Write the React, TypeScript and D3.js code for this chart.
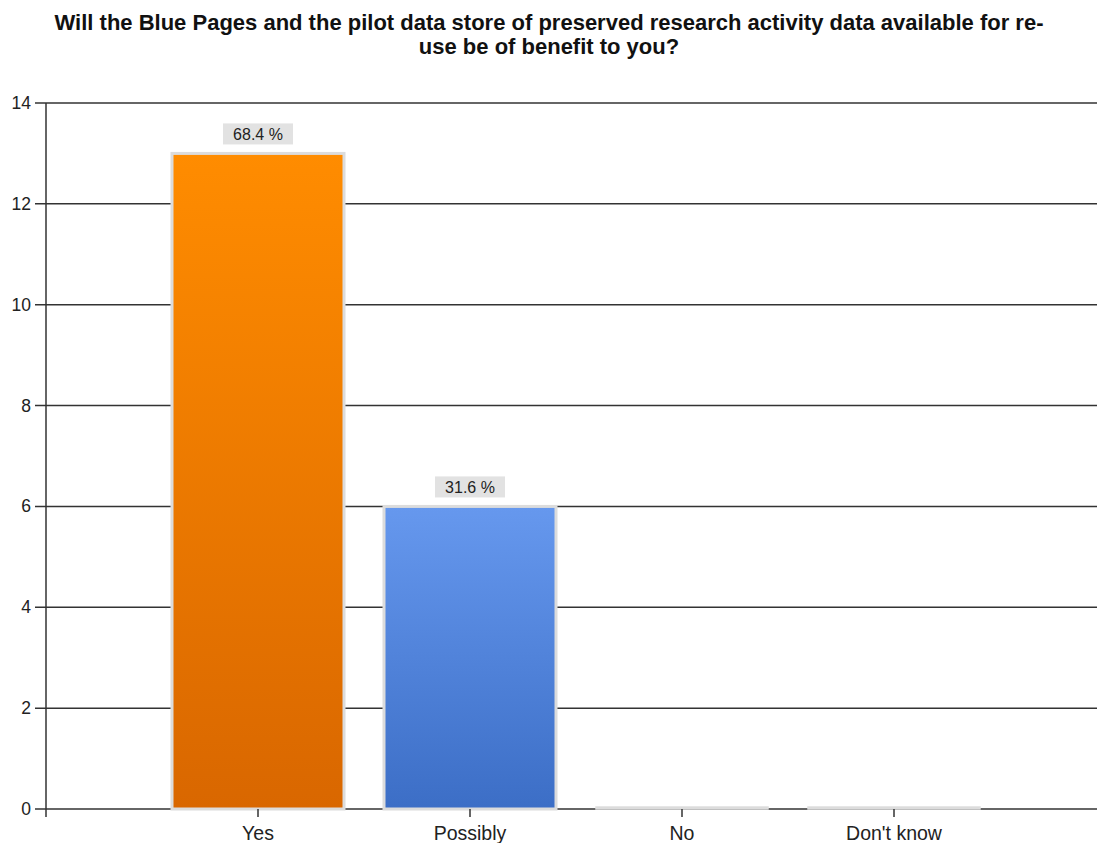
import React, { useEffect, useRef } from 'react';
import * as d3 from 'd3';

const categories = ['Yes', 'Possibly', 'No', "Don't know"];
const counts = [13, 6, 0, 0];
const percentLabels = ['68.4 %', '31.6 %', '', ''];
const yTicks = [0, 2, 4, 6, 8, 10, 12, 14];
const titleLines = [
  'Will the Blue Pages and the pilot data store of preserved research activity data available for re-',
  'use be of benefit to you?',
];

const App: React.FC = () => {
  const chartRef = useRef<SVGSVGElement | null>(null);

  useEffect(() => {
    drawChart();
  }, []);

  const drawChart = () => {
    const width = 1097;
    const height = 843;
    const plot = { left: 46, right: 1097, top: 103, bottom: 809 };

    const svg = d3.select(chartRef.current);
    svg.selectAll('*').remove();

    const defs = svg.append('defs');
    const gradients = [
      { id: 'gradOrange', top: '#ff8c00', bottom: '#d96700' },
      { id: 'gradBlue', top: '#6698ee', bottom: '#3c6ec6' },
    ];
    gradients.forEach((g) => {
      const lg = defs.append('linearGradient').attr('id', g.id).attr('x1', 0).attr('y1', 0).attr('x2', 0).attr('y2', 1);
      lg.append('stop').attr('offset', '0%').attr('stop-color', g.top);
      lg.append('stop').attr('offset', '100%').attr('stop-color', g.bottom);
    });

    const font = 'Arial, "Liberation Sans", sans-serif';

    // title
    svg
      .append('g')
      .selectAll('text')
      .data(titleLines)
      .enter()
      .append('text')
      .attr('x', 549)
      .attr('y', (d, i) => 30 + i * 24)
      .attr('text-anchor', 'middle')
      .style('font-family', font)
      .style('font-size', '22px')
      .style('font-weight', 'bold')
      .style('fill', '#111')
      .text((d) => d);

    const x = d3.scaleBand().domain(categories).range([152, 1000]).paddingInner(0).paddingOuter(0);
    const y = d3.scaleLinear().domain([0, 14]).range([plot.bottom, plot.top]);
    const barPad = 20;

    // grid lines
    svg
      .append('g')
      .selectAll('line')
      .data(yTicks)
      .enter()
      .append('line')
      .attr('x1', plot.left - 11)
      .attr('x2', plot.right)
      .attr('y1', (d) => y(d))
      .attr('y2', (d) => y(d))
      .attr('stroke', '#333')
      .attr('stroke-width', 1.5);

    // tick labels
    svg
      .append('g')
      .selectAll('text')
      .data(yTicks)
      .enter()
      .append('text')
      .attr('x', plot.left - 15)
      .attr('y', (d) => y(d) + 6)
      .attr('text-anchor', 'end')
      .style('font-family', font)
      .style('font-size', '17.5px')
      .style('fill', '#222')
      .text((d) => d);

    // y axis line
    svg
      .append('line')
      .attr('x1', plot.left)
      .attr('x2', plot.left)
      .attr('y1', plot.top)
      .attr('y2', plot.bottom + 8)
      .attr('stroke', '#333')
      .attr('stroke-width', 1.5);

    const data = categories.map((c, i) => ({ label: c, value: counts[i], pct: percentLabels[i] }));

    // bars (zero-valued ones show as a thin grey strip on the baseline)
    svg
      .append('g')
      .selectAll('rect')
      .data(data)
      .enter()
      .append('rect')
      .attr('x', (d) => x(d.label)! + barPad)
      .attr('y', (d) => y(d.value) - (d.value === 0 ? 2 : 0))
      .attr('width', x.bandwidth() - 2 * barPad)
      .attr('height', (d) => Math.max(y(0) - y(d.value), 2))
      .attr('fill', (d, i) => (d.value === 0 ? '#d6d6d6' : i === 0 ? 'url(#gradOrange)' : 'url(#gradBlue)'))
      .attr('stroke', (d) => (d.value === 0 ? '#dedede' : '#dcdcdc'))
      .attr('stroke-width', (d) => (d.value === 0 ? 1.5 : 3));

    // value labels
    const labelled = data.filter((d) => d.pct !== '');
    const lbl = svg.append('g').selectAll('g').data(labelled).enter().append('g');
    lbl
      .append('rect')
      .attr('x', (d) => x(d.label)! + x.bandwidth() / 2 - 35)
      .attr('y', (d) => y(d.value) - 30)
      .attr('width', 70)
      .attr('height', 21)
      .attr('fill', '#e2e2e2');
    lbl
      .append('text')
      .attr('x', (d) => x(d.label)! + x.bandwidth() / 2)
      .attr('y', (d) => y(d.value) - 13)
      .attr('text-anchor', 'middle')
      .style('font-family', font)
      .style('font-size', '16px')
      .style('fill', '#222')
      .text((d) => d.pct);

    // x ticks and labels
    const xt = svg.append('g').selectAll('g').data(categories).enter().append('g');
    xt.append('line')
      .attr('x1', (d) => x(d)! + x.bandwidth() / 2)
      .attr('x2', (d) => x(d)! + x.bandwidth() / 2)
      .attr('y1', plot.bottom)
      .attr('y2', plot.bottom + 8)
      .attr('stroke', '#333')
      .attr('stroke-width', 1.5);
    xt.append('text')
      .attr('x', (d) => x(d)! + x.bandwidth() / 2)
      .attr('y', plot.bottom + 31)
      .attr('text-anchor', 'middle')
      .style('font-family', font)
      .style('font-size', '19.5px')
      .style('fill', '#222')
      .text((d) => d);

    svg.attr('width', width).attr('height', height);
  };

  return (
    <svg
      ref={chartRef}
      width={1097}
      height={843}
      style={{ position: 'absolute', left: 0, top: 0, background: '#fff' }}
    />
  );
};

export default App;
